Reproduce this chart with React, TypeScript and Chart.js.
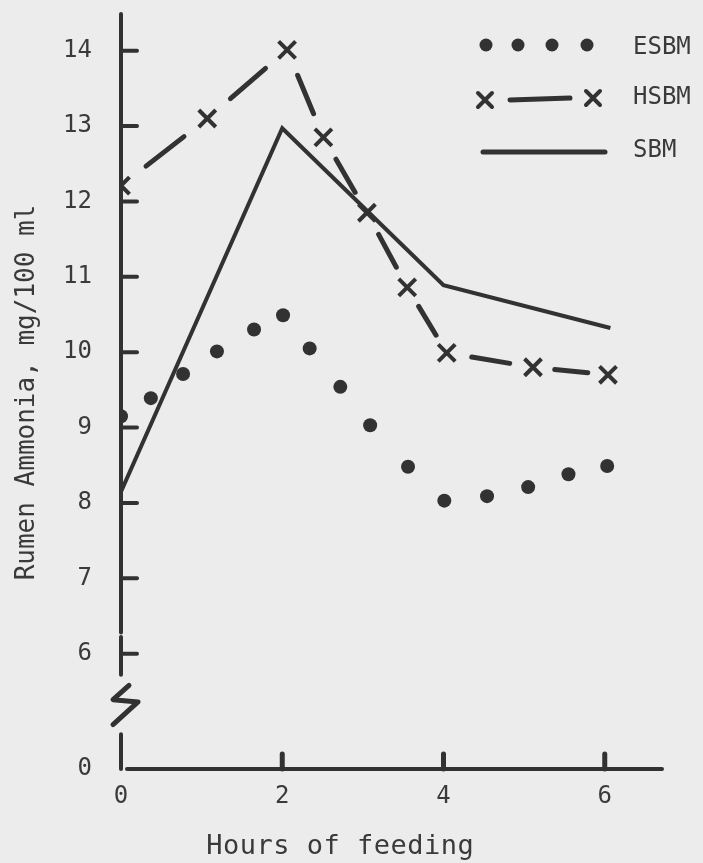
import React, { useEffect, useRef } from "react";
import { Chart, registerables } from "chart.js";

Chart.register(...registerables);

// ---- data ----
const xTickValues = [0, 2, 4, 6];
const yTickValues = [6, 7, 8, 9, 10, 11, 12, 13, 14];
const yZeroLabel = "0";
const xTitle = "Hours of feeding";
const yTitle = "Rumen Ammonia, mg/100 ml";

const seriesNames = ["ESBM", "HSBM", "SBM"];

const esbmHours = [0, 0.37, 0.77, 1.19, 1.65, 2.01, 2.34, 2.72, 3.09, 3.56, 4.01, 4.54, 5.05, 5.55, 6.03];
const esbmValues = [9.15, 9.39, 9.71, 10.01, 10.3, 10.49, 10.05, 9.54, 9.03, 8.48, 8.03, 8.09, 8.21, 8.38, 8.49];

const hsbmHours = [0, 1.07, 2.06, 2.51, 3.05, 3.55, 4.04, 5.11, 6.04];
const hsbmValues = [12.21, 13.1, 14.01, 12.85, 11.85, 10.86, 9.99, 9.8, 9.7];

const sbmHours = [0, 2, 4, 6.07];
const sbmValues = [8.15, 12.97, 10.89, 10.32];

// ---- layout / style ----
const X_MAX = 6.71;
const Y_ZERO_POS = 4.47; // where "0" sits below the axis break
const Y_MAX = 14.46;
const Y_AXIS_WIDTH = 121;
const X_AXIS_HEIGHT = 94;
const INK = "#323232";
const TEXT = "#3a3a3a";
const BG = "#ececec";
const FONT = "'DejaVu Sans Mono', monospace";

const decorPlugin = {
  id: "decor",
  beforeDraw(chart: any) {
    const { ctx, width, height } = chart;
    ctx.save();
    ctx.fillStyle = BG;
    ctx.fillRect(0, 0, width, height);
    ctx.restore();
  },
  beforeDatasetsDraw(chart: any) {
    const { ctx } = chart;
    const x = chart.scales.x;
    const y = chart.scales.y;
    const ax = x.getPixelForValue(0);
    const ay0 = y.getPixelForValue(Y_ZERO_POS);
    const py = (v: number) => y.getPixelForValue(v);
    const line = (x1: number, y1: number, x2: number, y2: number) => {
      ctx.beginPath();
      ctx.moveTo(x1, y1);
      ctx.lineTo(x2, y2);
      ctx.stroke();
    };
    ctx.save();
    ctx.strokeStyle = INK;
    ctx.lineCap = "round";
    ctx.lineJoin = "round";
    ctx.lineWidth = 4;
    // y axis (broken)
    line(ax, y.top - 2, ax, py(6.28));
    line(ax, py(6.22), ax, py(5.72));
    line(ax, py(4.93), ax, ay0);
    // break symbol
    ctx.lineWidth = 5;
    ctx.beginPath();
    ctx.moveTo(ax + 8, py(5.58));
    ctx.lineTo(ax - 8, py(5.39));
    ctx.lineTo(ax + 17, py(5.36));
    ctx.lineTo(ax - 8, py(5.06));
    ctx.stroke();
    // x axis
    ctx.lineWidth = 4;
    line(ax + 6, ay0, x.right, ay0);
    // y ticks
    for (const v of yTickValues) {
      line(ax, py(v), ax + 16, py(v));
    }
    // x ticks
    ctx.lineWidth = 5;
    for (const v of xTickValues) {
      if (v === 0) continue;
      const px = x.getPixelForValue(v);
      line(px, ay0, px, ay0 - 15);
    }
    // x axis title (offset to the left, as in the original figure)
    ctx.fillStyle = TEXT;
    ctx.font = `27px ${FONT}`;
    (ctx as any).letterSpacing = "0.5px";
    ctx.textAlign = "center";
    ctx.textBaseline = "middle";
    ctx.fillText(xTitle, x.getPixelForValue(2.72), x.bottom - 16);
    ctx.restore();
  },
  afterDraw(chart: any) {
    const { ctx, chartArea } = chart;
    const r = chartArea.right;
    const textX = r - 29;
    ctx.save();
    ctx.fillStyle = INK;
    ctx.strokeStyle = INK;
    ctx.lineCap = "round";
    // ESBM
    for (const dx of [-176, -144, -110, -75]) {
      ctx.beginPath();
      ctx.arc(r + dx, 45, 6.5, 0, Math.PI * 2);
      ctx.fill();
    }
    // HSBM
    const cross = (cx: number, cy: number) => {
      const s = 7;
      ctx.lineWidth = 4;
      ctx.beginPath();
      ctx.moveTo(cx - s, cy - s);
      ctx.lineTo(cx + s, cy + s);
      ctx.moveTo(cx + s, cy - s);
      ctx.lineTo(cx - s, cy + s);
      ctx.stroke();
    };
    cross(r - 177, 100);
    cross(r - 69, 98);
    ctx.lineWidth = 5;
    ctx.beginPath();
    ctx.moveTo(r - 152, 100);
    ctx.lineTo(r - 92, 98);
    ctx.stroke();
    // SBM
    ctx.lineWidth = 5;
    ctx.beginPath();
    ctx.moveTo(r - 179, 152);
    ctx.lineTo(r - 57, 152);
    ctx.stroke();
    // labels
    ctx.fillStyle = TEXT;
    ctx.font = `24px ${FONT}`;
    ctx.textAlign = "left";
    ctx.textBaseline = "middle";
    ctx.fillText(seriesNames[0], textX, 48);
    ctx.fillText(seriesNames[1], textX, 98);
    ctx.fillText(seriesNames[2], textX, 151);
    ctx.restore();
  },
};

export default function App() {
  const ref = useRef<HTMLCanvasElement | null>(null);

  useEffect(() => {
    document.body.style.margin = "0";
    document.body.style.background = BG;
    const canvas = ref.current;
    if (!canvas) return;

    const segLen = (c: any) => Math.hypot(c.p1.x - c.p0.x, c.p1.y - c.p0.y);

    const chart = new Chart(canvas, {
      type: "line",
      data: {
        datasets: [
          {
            label: seriesNames[0],
            data: esbmHours.map((h, i) => ({ x: h, y: esbmValues[i] })),
            showLine: false,
            pointStyle: "circle",
            pointRadius: 7,
            pointBackgroundColor: INK,
            pointBorderWidth: 0,
            borderColor: INK,
          },
          {
            label: seriesNames[1],
            data: hsbmHours.map((h, i) => ({ x: h, y: hsbmValues[i] })),
            borderColor: INK,
            borderWidth: 5,
            borderCapStyle: "round",
            pointStyle: "crossRot",
            pointRadius: 12,
            pointBorderWidth: 4,
            pointBorderColor: INK,
            pointBackgroundColor: INK,
            segment: {
              borderDash: (c: any) => {
                const L = segLen(c);
                return [0.44 * L, 0.56 * L];
              },
              borderDashOffset: (c: any) => -0.29 * segLen(c),
            },
          } as any,
          {
            label: seriesNames[2],
            data: sbmHours.map((h, i) => ({ x: h, y: sbmValues[i] })),
            borderColor: INK,
            borderWidth: 4,
            borderJoinStyle: "miter",
            pointRadius: 0,
          },
        ],
      },
      options: {
        responsive: false,
        animation: false,
        layout: { padding: { top: 15, right: 41, left: 0, bottom: 0 } },
        plugins: { legend: { display: false }, tooltip: { enabled: false } },
        scales: {
          x: {
            type: "linear",
            min: 0,
            max: X_MAX,
            afterBuildTicks: (s: any) => {
              s.ticks = xTickValues.map((v) => ({ value: v }));
            },
            afterFit: (s: any) => {
              s.height = X_AXIS_HEIGHT;
              s.paddingLeft = 0;
              s.paddingRight = 0;
            },
            grid: { display: false, drawTicks: false },
            border: { display: false },
            ticks: {
              autoSkip: false,
              padding: 13,
              color: TEXT,
              font: { family: FONT, size: 24 },
              callback: (v: any) => String(v),
            },
            title: { display: false },
          },
          y: {
            type: "linear",
            min: Y_ZERO_POS,
            max: Y_MAX,
            afterBuildTicks: (s: any) => {
              s.ticks = [Y_ZERO_POS, ...yTickValues].map((v) => ({ value: v }));
            },
            afterFit: (s: any) => {
              s.width = Y_AXIS_WIDTH;
              s.paddingTop = 0;
              s.paddingBottom = 0;
            },
            grid: { display: false, drawTicks: false },
            border: { display: false },
            ticks: {
              autoSkip: false,
              padding: 29,
              color: TEXT,
              font: { family: FONT, size: 24 },
              callback: (v: any) => (v === Y_ZERO_POS ? yZeroLabel : String(v)),
            },
            title: {
              display: true,
              text: yTitle,
              color: TEXT,
              font: { family: FONT, size: 26 },
              padding: { top: 12, bottom: 20 },
            },
          },
        },
      },
      plugins: [decorPlugin],
    } as any);

    return () => chart.destroy();
  }, []);

  return <canvas ref={ref} width={703} height={863} style={{ display: "block" }} />;
}
